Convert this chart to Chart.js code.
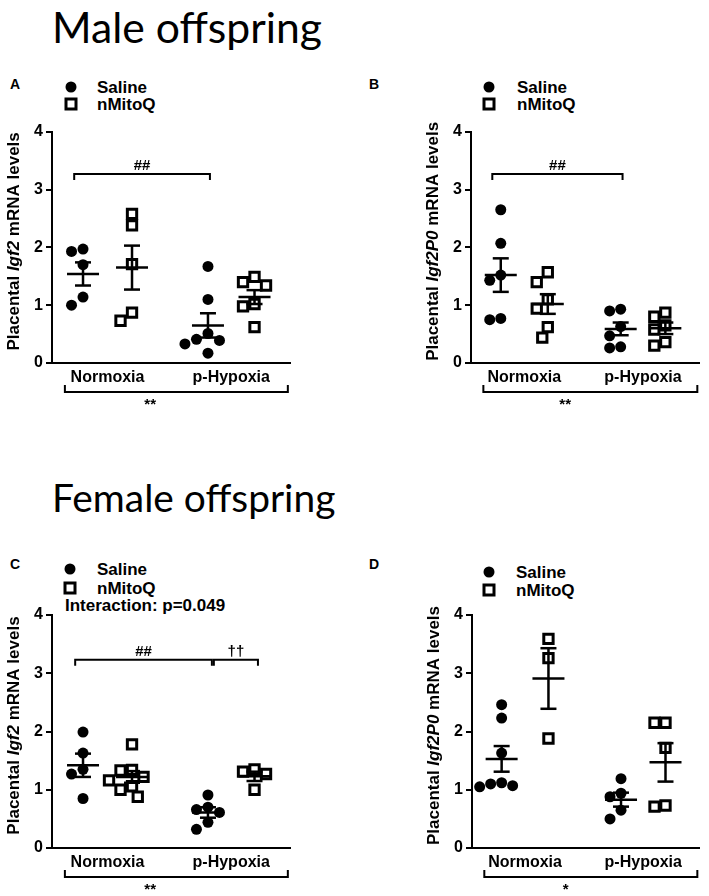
<!DOCTYPE html>
<html>
<head>
<meta charset="utf-8">
<script src="https://cdn.jsdelivr.net/npm/chart.js@4.4.1/dist/chart.umd.min.js"></script>
<style>
  body { margin: 0; background: #fff; }
  #page { position: relative; width: 709px; height: 896px; overflow: hidden; font-family: "Liberation Sans", Arial, sans-serif; }
  .big { position: absolute; font-family: Lato, "Open Sans", sans-serif; font-size: 40px; line-height: 1; white-space: nowrap; color: #000; }
  .box { position: absolute; }
  .txt { position: absolute; font-weight: bold; font-size: 17px; line-height: 1; white-space: nowrap; transform: translateY(-50%); }
  .dot { position: absolute; width: 11px; height: 11px; border-radius: 50%; background: #000; transform: translate(-50%, -50%); }
  .sq { position: absolute; width: 7px; height: 7px; border: 3px solid #000; background: #fff; transform: translate(-50%, -50%); }
</style>
</head>
<body>
<div id="page">
  <div class="big" id="t1" style="left:52px; top:6px;">Male offspring</div>
  <div class="big" id="t2" style="left:52px; top:478px;">Female offspring</div>

  <div class="txt" style="left:10px; top:84px; font-size:14px;">A</div>
  <div class="dot" style="left:71px; top:87px;"></div><div class="txt" style="left:97px; top:87px;">Saline</div>
  <div class="sq" style="left:71px; top:104px;"></div><div class="txt" style="left:97px; top:104px;">nMitoQ</div>

  <div class="txt" style="left:369px; top:84px; font-size:14px;">B</div>
  <div class="dot" style="left:489px; top:87px;"></div><div class="txt" style="left:517px; top:87px;">Saline</div>
  <div class="sq" style="left:489px; top:104px;"></div><div class="txt" style="left:517px; top:104px;">nMitoQ</div>

  <div class="txt" style="left:10px; top:564px; font-size:14px;">C</div>
  <div class="dot" style="left:70px; top:569px;"></div><div class="txt" style="left:97px; top:569px;">Saline</div>
  <div class="sq" style="left:70px; top:588px;"></div><div class="txt" style="left:97px; top:588px;">nMitoQ</div>
  <div class="txt" style="left:65px; top:605px;">Interaction: p=0.049</div>

  <div class="txt" style="left:369px; top:564px; font-size:14px;">D</div>
  <div class="dot" style="left:489px; top:572px;"></div><div class="txt" style="left:516px; top:572px;">Saline</div>
  <div class="sq" style="left:489px; top:590px;"></div><div class="txt" style="left:516px; top:590px;">nMitoQ</div>

  <div class="box" style="left:0px; top:110px; width:355px; height:310px;"><canvas id="cA"></canvas></div>
  <div class="box" style="left:355px; top:110px; width:354px; height:310px;"><canvas id="cB"></canvas></div>
  <div class="box" style="left:0px; top:595px; width:355px; height:301px;"><canvas id="cC"></canvas></div>
  <div class="box" style="left:355px; top:595px; width:354px; height:301px;"><canvas id="cD"></canvas></div>
</div>

<script>
const treatments = ['Saline', 'nMitoQ'];
const conditions = ['Normoxia', 'p-Hypoxia'];
const yTicks = [0, 1, 2, 3, 4];

// group order: Saline/Normoxia, nMitoQ/Normoxia, Saline/p-Hypoxia, nMitoQ/p-Hypoxia

// A - male, Igf2
const aSalNorm = [1.97, 1.93, 1.70, 1.14, 1.00];
const aMitoNorm = [2.58, 2.38, 1.71, 0.87, 0.73];
const aSalHyp = [1.67, 1.10, 0.51, 0.41, 0.39, 0.33, 0.17];
const aMitoHyp = [1.49, 1.40, 1.34, 1.02, 0.98, 0.62];
const aMean = [1.54, 1.65, 0.65, 1.14];
const aSem = [0.20, 0.38, 0.21, 0.12];

// B - male, Igf2P0
const bSalNorm = [2.65, 2.07, 1.52, 1.43, 0.77, 0.75];
const bMitoNorm = [1.57, 1.40, 1.10, 0.94, 0.62, 0.44];
const bSalHyp = [0.93, 0.90, 0.63, 0.47, 0.28, 0.26];
const bMitoHyp = [0.87, 0.80, 0.65, 0.58, 0.36, 0.30];
const bMean = [1.52, 1.02, 0.59, 0.60];
const bSem = [0.29, 0.17, 0.11, 0.10];

// C - female, Igf2
const cSalNorm = [1.99, 1.63, 1.35, 1.27, 0.85];
const cMitoNorm = [1.78, 1.34, 1.33, 1.22, 1.16, 1.06, 1.00, 0.88];
const cSalHyp = [0.91, 0.70, 0.66, 0.61, 0.44, 0.32];
const cMitoHyp = [1.35, 1.31, 1.27, 1.00];
const cMean = [1.42, 1.22, 0.61, 1.23];
const cSem = [0.20, 0.10, 0.09, 0.08];

// D - female, Igf2P0
const dSalNorm = [2.46, 2.23, 1.63, 1.12, 1.10, 1.07, 1.05];
const dMitoNorm = [3.59, 3.26, 1.88];
const dSalHyp = [1.19, 0.94, 0.88, 0.65, 0.50];
const dMitoHyp = [2.15, 2.15, 1.72, 0.73, 0.71];
const dMean = [1.53, 2.91, 0.83, 1.47];
const dSem = [0.22, 0.52, 0.12, 0.33];

// layout
const groupPos = [1, 2, 3.55, 4.5];
const xMin = 0.367, pxPerX = 49, pxPerY = 58;

// fit the big headings to their width in the figure
function fitWidth(id, w) {
  const el = document.getElementById(id);
  const fs = parseFloat(getComputedStyle(el).fontSize);
  el.style.fontSize = (fs * w / el.offsetWidth) + 'px';
}
fitWidth('t1', 270);
fitWidth('t2', 283);

// simple beeswarm so close values sit side by side
function swarm(values, center) {
  const d = 11.5;
  const steps = [0, -0.5, 0.5, -1, 1, -1.5, 1.5, -2, 2];
  const placed = [];
  values.slice().sort((a, b) => b - a).forEach(v => {
    let off = 0;
    for (const s of steps) {
      off = s * d;
      if (placed.every(p => Math.hypot(p.ox - off, (p.v - v) * pxPerY) >= d)) break;
    }
    placed.push({ox: off, v: v});
  });
  return placed.map(p => ({x: center + p.ox / pxPerX, y: p.v}));
}

function line(ctx, x1, y1, x2, y2) {
  ctx.beginPath(); ctx.moveTo(x1, y1); ctx.lineTo(x2, y2); ctx.stroke();
}

const decor = {
  id: 'decor',
  afterDatasetsDraw(chart, args, o) {
    const {ctx, chartArea} = chart;
    const x = chart.scales.x, y = chart.scales.y;
    ctx.save();
    ctx.strokeStyle = '#000';
    ctx.fillStyle = '#000';
    ctx.lineCap = 'butt';

    // mean and SEM
    ctx.lineWidth = 2.5;
    o.mean.forEach((m, i) => {
      const cx = x.getPixelForValue(groupPos[i]);
      const my = y.getPixelForValue(m);
      const top = y.getPixelForValue(m + o.sem[i]);
      const bot = y.getPixelForValue(m - o.sem[i]);
      line(ctx, cx - 16, my, cx + 16, my);
      line(ctx, cx, top, cx, bot);
      line(ctx, cx - 8, top, cx + 8, top);
      line(ctx, cx - 8, bot, cx + 8, bot);
    });

    // significance brackets
    ctx.lineWidth = 2;
    ctx.textAlign = 'center';
    ctx.textBaseline = 'alphabetic';
    ctx.font = 'bold 15px "Liberation Sans", Arial';
    o.brackets.forEach(b => {
      const x1 = x.getPixelForValue(b.from), x2 = x.getPixelForValue(b.to);
      const by = y.getPixelForValue(b.level);
      ctx.beginPath();
      ctx.moveTo(x1, by + 6); ctx.lineTo(x1, by); ctx.lineTo(x2, by); ctx.lineTo(x2, by + 6);
      ctx.stroke();
      ctx.fillText(b.label, (x1 + x2) / 2, by - 4);
    });

    // condition labels and main-effect bracket below the axis
    const base = chartArea.bottom;
    ctx.font = 'bold 16px "Liberation Sans", Arial';
    ctx.textBaseline = 'middle';
    conditions.forEach((c, i) => {
      const cx = x.getPixelForValue((groupPos[2 * i] + groupPos[2 * i + 1]) / 2);
      ctx.fillText(c, cx, base + 15);
    });
    const l = x.getPixelForValue(0.63), r = x.getPixelForValue(5.18);
    ctx.beginPath();
    ctx.moveTo(l, base + 22); ctx.lineTo(l, base + 29); ctx.lineTo(r, base + 29); ctx.lineTo(r, base + 22);
    ctx.stroke();
    ctx.font = 'bold 15px "Liberation Sans", Arial';
    ctx.fillText(o.star, x.getPixelForValue(2.37), base + 42);
    ctx.restore();
  },
  afterDraw(chart, args, o) {
    // rotated y title with italic gene name
    const {ctx, chartArea} = chart;
    ctx.save();
    const cx = chartArea.left - 38;
    const cy = (chartArea.top + chartArea.bottom) / 2 - 6;
    ctx.translate(cx, cy);
    ctx.rotate(-Math.PI / 2);
    ctx.fillStyle = '#000';
    ctx.textBaseline = 'middle';
    ctx.textAlign = 'left';
    const fonts = o.title.map(p => (p[1] ? 'italic ' : '') + 'bold 17px "Liberation Sans", Arial');
    let total = 0;
    o.title.forEach((p, i) => { ctx.font = fonts[i]; total += ctx.measureText(p[0]).width; });
    let pos = -total / 2;
    o.title.forEach((p, i) => {
      ctx.font = fonts[i];
      ctx.fillText(p[0], pos, 0);
      pos += ctx.measureText(p[0]).width;
    });
    ctx.restore();
  }
};

function panel(id, groups, mean, sem, gene, brackets, star, pad) {
  const sal = [], mito = [];
  groups.forEach((g, i) => {
    const pts = swarm(g, groupPos[i]);
    if (i % 2 === 0) sal.push(...pts); else mito.push(...pts);
  });
  return new Chart(document.getElementById(id), {
    type: 'scatter',
    data: {
      datasets: [
        { label: treatments[0], data: sal, pointStyle: 'circle', pointRadius: 5.5,
          backgroundColor: '#000', borderColor: '#000', borderWidth: 0 },
        { label: treatments[1], data: mito, pointStyle: 'rect', pointRadius: 6.6,
          backgroundColor: '#fff', borderColor: '#000', borderWidth: 3 }
      ]
    },
    options: {
      responsive: true,
      maintainAspectRatio: false,
      animation: false,
      devicePixelRatio: 1,
      layout: { padding: pad },
      plugins: {
        legend: { display: false },
        tooltip: { enabled: false },
        decor: { mean: mean, sem: sem, brackets: brackets, star: star,
                 title: [['Placental ', false], [gene, true], [' mRNA levels', false]] }
      },
      scales: {
        x: {
          type: 'linear',
          min: xMin,
          max: xMin + 238 / pxPerX,
          ticks: { display: false },
          grid: { display: true, drawOnChartArea: false, drawTicks: false },
          border: { display: true, color: '#000', width: 2 },
          afterFit: s => { s.height = 0; }
        },
        y: {
          min: 0,
          max: 4,
          afterBuildTicks: s => { s.ticks = yTicks.map(v => ({value: v})); },
          ticks: { color: '#000', padding: 3, font: { family: '"Liberation Sans", Arial', size: 16, weight: 'bold' } },
          grid: { display: true, drawOnChartArea: false, drawTicks: true, tickLength: 6, color: '#000', lineWidth: 2 },
          border: { display: true, color: '#000', width: 2 },
          afterFit: s => { s.width = pad.axisW; }
        }
      }
    },
    plugins: [decor]
  });
}

const topBrackets = [{from: 0.82, to: 3.59, level: 3.27, label: '##'}];
panel('cA', [aSalNorm, aMitoNorm, aSalHyp, aMitoHyp], aMean, aSem, 'Igf2', topBrackets, '**',
      {left: 0, top: 21.7, right: 65, bottom: 57, axisW: 52});
panel('cB', [bSalNorm, bMitoNorm, bSalHyp, bMitoHyp], bMean, bSem, 'Igf2P0', topBrackets, '**',
      {left: 0, top: 21.7, right: 0, bottom: 57, axisW: 116});
panel('cC', [cSalNorm, cMitoNorm, cSalHyp, cMitoHyp], cMean, cSem, 'Igf2',
      [{from: 0.84, to: 3.63, level: 3.23, label: '##'}, {from: 3.67, to: 4.57, level: 3.23, label: '††'}], '**',
      {left: 0, top: 20, right: 65, bottom: 48, axisW: 52});
panel('cD', [dSalNorm, dMitoNorm, dSalHyp, dMitoHyp], dMean, dSem, 'Igf2P0', [], '*',
      {left: 0, top: 20, right: 0, bottom: 48, axisW: 117});
</script>
</body>
</html>
